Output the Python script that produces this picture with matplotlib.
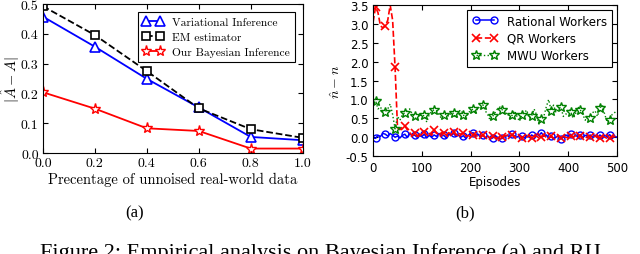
import numpy as np
import matplotlib.pyplot as plt

plt.rcParams["mathtext.fontset"] = "cm"
plt.rcParams["axes.unicode_minus"] = False

# (a) error vs. share of unnoised data
frac = [0.0, 0.2, 0.4, 0.6, 0.8, 1.0]
vi_err = [0.458, 0.357, 0.249, 0.153, 0.054, 0.043]
em_err = [0.493, 0.396, 0.275, 0.150, 0.080, 0.051]
bayes_err = [0.204, 0.149, 0.083, 0.074, 0.015, 0.015]

# (b) n_hat - n over episodes (sampled every 5 episodes)
episodes = np.arange(0, 505, 5)
rational = [-0.02, -0.03, 0.05, 0.02, 0.10, 0.08, 0.03, 0.10, 0.05, 0.00,
            0.03, -0.02, 0.05, 0.08, 0.00, 0.10, 0.03, 0.06, 0.00, 0.04,
            0.02, 0.08, -0.02, 0.05, 0.00, 0.06, 0.02, 0.10, 0.03, 0.05,
            -0.02, 0.08, 0.05, 0.10, 0.02, 0.06, 0.00, 0.04, -0.03, 0.05,
            0.10, 0.12, 0.03, 0.08, 0.00, 0.05, -0.02, 0.03, -0.05, -0.02,
            0.03, 0.00, -0.05, -0.03, 0.02, 0.05, 0.00, 0.08, 0.03, 0.00,
            0.05, 0.02, -0.02, 0.04, 0.00, 0.06, 0.02, 0.08, 0.05, 0.12,
            0.03, 0.06, -0.02, 0.02, -0.05, 0.00, 0.05, -0.05, 0.00, 0.06,
            0.02, 0.08, 0.00, 0.05, 0.02, 0.07, 0.00, 0.05, 0.02, 0.06,
            0.00, 0.05, -0.02, 0.06, 0.00, 0.04, 0.02, 0.07, -0.02, 0.03,
            0.00]
qr = [3.05, 3.45, 3.30, 2.95, 2.90, 2.95, 3.10, 3.50, 3.10, 1.85,
      0.25, 0.20, 0.28, 0.30, 0.20, 0.12, 0.05, 0.10, 0.02, 0.08,
      0.12, 0.15, 0.05, 0.10, 0.05, 0.20, 0.10, 0.05, 0.12, 0.10,
      0.05, 0.12, 0.08, 0.15, 0.05, 0.10, 0.08, 0.10, 0.02, 0.05,
      0.00, 0.05, 0.08, 0.00, 0.05, 0.05, 0.00, 0.03, -0.02, 0.02,
      0.00, -0.03, 0.02, 0.00, 0.03, 0.05, 0.08, 0.07, 0.02, 0.00,
      0.03, -0.02, 0.02, 0.00, 0.04, -0.02, 0.00, 0.03, -0.02, 0.00,
      0.05, 0.00, -0.03, 0.02, -0.02, 0.00, 0.03, -0.03, 0.02, 0.00,
      -0.02, 0.03, 0.00, 0.05, -0.02, 0.03, 0.00, -0.03, 0.02, 0.00,
      -0.02, 0.03, 0.00, -0.02, 0.02, 0.00, -0.03, -0.02, 0.00, 0.02,
      -0.02]
mwu = [0.95, 0.97, 0.75, 0.80, 0.68, 0.68, 0.75, 0.88, 0.60, 0.22,
       0.55, 0.45, 0.60, 0.65, 0.70, 0.75, 0.62, 0.55, 0.45, 0.62,
       0.55, 0.58, 0.40, 0.60, 0.68, 0.73, 0.70, 0.60, 0.50, 0.58,
       0.62, 0.55, 0.65, 0.63, 0.50, 0.68, 0.72, 0.60, 0.45, 0.65,
       0.70, 0.75, 0.62, 0.80, 0.75, 0.86, 0.70, 0.60, 0.45, 0.55,
       0.65, 0.75, 0.80, 0.72, 0.60, 0.65, 0.50, 0.58, 0.70, 0.55,
       0.42, 0.60, 0.65, 0.72, 0.50, 0.55, 0.75, 0.60, 0.35, 0.47,
       0.55, 0.80, 1.00, 0.70, 0.85, 0.65, 0.75, 0.80, 0.55, 0.60,
       0.75, 0.68, 0.50, 0.62, 0.80, 0.72, 0.60, 0.45, 0.58, 0.52,
       0.65, 0.70, 0.55, 0.78, 0.85, 0.60, 0.40, 0.45, 0.60, 0.65,
       0.70]

fig = plt.figure(figsize=(6.4, 2.55), dpi=100)

# ---- left panel (a) ----
cm = "cmr10"
ax1 = fig.add_axes([0.067, 0.396, 0.406, 0.584])
ax1.plot(frac, vi_err, "b-^", lw=1.3, ms=7, mfc="white", mec="b", mew=1.2,
         label="Variational Inference")
ax1.plot(frac, em_err, "k--s", lw=1.3, ms=6, mfc="white", mec="k", mew=1.2,
         label="EM estimator")
ax1.plot(frac, bayes_err, "r-*", lw=1.3, ms=8, mfc="white", mec="r", mew=1.0,
         label="Our Bayesian Inference")
ax1.set_xlim(0, 1)
ax1.set_ylim(0, 0.5)
ax1.set_xticks(frac)
ax1.set_yticks([0.0, 0.1, 0.2, 0.3, 0.4, 0.5])
ax1.tick_params(direction="in", top=True, right=True, labelsize=10, pad=3)
for lbl in ax1.get_xticklabels() + ax1.get_yticklabels():
    lbl.set_fontfamily(cm)
ax1.set_xlabel("Precentage of unnoised real-world data", fontsize=10.5,
               fontfamily=cm, labelpad=2)
ax1.set_ylabel(r"$|\hat{A}-A|$", fontsize=10.5, labelpad=-1)
leg1 = ax1.legend(loc="upper right", numpoints=2, fancybox=False,
                  edgecolor="black", framealpha=1, prop={"family": cm, "size": 8.3},
                  handlelength=1.8, borderaxespad=0.7, labelspacing=0.45)
leg1.get_frame().set_linewidth(0.8)

# ---- right panel (b) ----
ax2 = fig.add_axes([0.583, 0.384, 0.381, 0.592])
ax2.plot(episodes, rational, "b-o", lw=1.1, ms=5, mfc="none", mec="b", mew=1.0,
         markevery=(1, 4), label="Rational Workers")
ax2.plot(episodes, qr, "r--x", lw=1.2, ms=6, mew=1.2,
         markevery=(1, 4), label="QR Workers")
ax2.plot(episodes, mwu, "g:*", lw=1.0, ms=7, mfc="none", mec="g", mew=1.0,
         markevery=(1, 4), label="MWU Workers")
ax2.set_xlim(0, 500)
ax2.set_ylim(-0.5, 3.5)
ax2.set_yticks(np.arange(-0.5, 3.6, 0.5))
ax2.set_xticks([0, 100, 200, 300, 400, 500])
ax2.tick_params(direction="in", top=True, right=True, labelsize=8.5)
ax2.set_xlabel("Episodes", fontsize=8.5, labelpad=1)
ax2.set_ylabel(r"$\hat{n}-n$", fontsize=10, labelpad=2)
leg2 = ax2.legend(loc="upper right", numpoints=2, fancybox=False,
                  edgecolor="black", framealpha=1, fontsize=8.5,
                  handlelength=2.2, borderaxespad=0.4, labelspacing=0.35)
leg2.get_frame().set_linewidth(0.8)

# sub-captions and figure caption (cut off at the bottom, as in the source)
fig.text(0.211, 1 - 213 / 255, "(a)", ha="center", va="center",
         fontfamily="Liberation Serif", fontsize=12)
fig.text(0.727, 1 - 213 / 255, "(b)", ha="center", va="center",
         fontfamily="Liberation Serif", fontsize=12)
fig.text(0.5, 1 - 258 / 255,
         "Figure 2: Empirical analysis on Bayesian Inference (a) and RIJ",
         ha="center", va="baseline", fontfamily="Liberation Serif", fontsize=16)

fig.savefig("out.png", dpi=100)
